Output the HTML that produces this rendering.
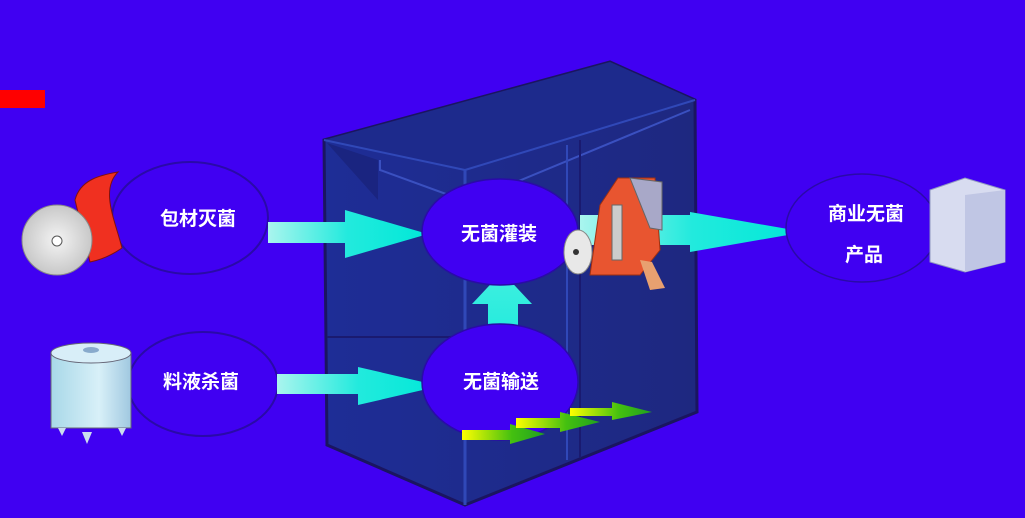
<!DOCTYPE html>
<html><head><meta charset="utf-8"><style>
html,body{margin:0;padding:0;background:#4000f2;}
svg{display:block}
text{font-family:"Liberation Sans","Noto Sans CJK SC",sans-serif;font-weight:bold;fill:#fff;font-size:19px}
</style></head><body>
<svg width="1025" height="518" viewBox="0 0 1025 518">
<defs>
<linearGradient id="cy" x1="0" x2="1"><stop offset="0" stop-color="#aaf5ee"/><stop offset="0.5" stop-color="#22eadd"/><stop offset="1" stop-color="#00e8d8"/></linearGradient>
<linearGradient id="cyv" x1="0" y1="1" x2="0" y2="0"><stop offset="0" stop-color="#22eadd"/><stop offset="1" stop-color="#40f0e0"/></linearGradient>
<linearGradient id="yg" x1="0" x2="1"><stop offset="0" stop-color="#ffff00"/><stop offset="0.6" stop-color="#44c010"/><stop offset="1" stop-color="#20a020"/></linearGradient>
<linearGradient id="box" x1="0" x2="1"><stop offset="0" stop-color="#1e2d96"/><stop offset="1" stop-color="#1e2880"/></linearGradient>
<radialGradient id="roll"><stop offset="0" stop-color="#f4f4f4"/><stop offset="1" stop-color="#c8c8c8"/></radialGradient>
<linearGradient id="tank" x1="0" x2="1"><stop offset="0" stop-color="#a8d8e8"/><stop offset="0.6" stop-color="#d8f0f8"/><stop offset="1" stop-color="#a0c8e0"/></linearGradient>
</defs>
<rect x="0" y="0" width="1025" height="518" fill="#4000f2"/>
<rect x="0" y="90" width="45" height="18" fill="#ff0000"/>
<!-- machine box -->
<polygon points="324,140 610,62 695,100 697,412 465,505 327,445" fill="url(#box)" stroke="#1a1560" stroke-width="3"/>
<polygon points="324,140 610,62 695,100 465,170" fill="#1d2a8c"/>
<polyline points="380,160 380,170 468,202 690,110" fill="none" stroke="#3a50c0" stroke-width="2"/>
<line x1="324" y1="140" x2="465" y2="170" stroke="#3048b8" stroke-width="2"/>
<line x1="465" y1="170" x2="695" y2="100" stroke="#3048b8" stroke-width="2"/>
<line x1="465" y1="170" x2="465" y2="505" stroke="#3048b8" stroke-width="3"/>
<line x1="567" y1="145" x2="567" y2="460" stroke="#3048b8" stroke-width="2"/>
<line x1="580" y1="140" x2="580" y2="458" stroke="#1a1a70" stroke-width="2"/>
<line x1="327" y1="337" x2="465" y2="337" stroke="#1a1a70" stroke-width="2"/>
<polygon points="327,143 378,160 378,200" fill="#1a2480"/>
<!-- left ellipses -->
<ellipse cx="190" cy="218" rx="78" ry="56" fill="#4000f2" stroke="#2a0aa8" stroke-width="2"/>
<ellipse cx="203" cy="384" rx="75" ry="52" fill="#4000f2" stroke="#2a0aa8" stroke-width="2"/>
<text x="160" y="225">包材灭菌</text>
<text x="163" y="388">料液杀菌</text>
<!-- arrows -->
<polygon points="268,222 345,222 345,210 428,234 345,258 345,243 268,243" fill="url(#cy)"/>
<polygon points="277,374 358,374 358,367 440,386 358,405 358,394 277,394" fill="url(#cy)"/>
<polygon points="488,338 488,304 472,304 502,272 532,304 518,304 518,338" fill="url(#cyv)"/>
<polygon points="580,215 690,215 690,212 805,232 690,252 690,245 580,245" fill="url(#cy)"/>
<!-- center ellipses -->
<ellipse cx="500" cy="232" rx="78" ry="53" fill="#4000f2" stroke="#2a0aa8" stroke-width="1.5"/>
<ellipse cx="500" cy="382" rx="78" ry="58" fill="#4000f2" stroke="#2a0aa8" stroke-width="1.5"/>
<text x="461" y="240">无菌灌装</text>
<text x="463" y="388">无菌输送</text>
<!-- green arrows -->
<polygon points="462,430 510,430 510,424 545,434 510,444 510,440 462,440" fill="url(#yg)"/>
<polygon points="516,418 560,418 560,412 600,422 560,432 560,428 516,428" fill="url(#yg)"/>
<polygon points="570,408 612,408 612,402 652,412 612,420 612,416 570,416" fill="url(#yg)"/>
<!-- right ellipse -->
<ellipse cx="862" cy="228" rx="76" ry="54" fill="#4000f2" stroke="#2a0aa8" stroke-width="1.5"/>
<text x="828" y="220">商业无菌</text>
<text x="845" y="261">产品</text>
<!-- filler machine -->
<polygon points="618,178 655,178 660,250 640,275 590,275 600,205" fill="#e85530" stroke="#a03010"/>
<polygon points="630,178 662,182 662,230 650,228" fill="#a8a8c8" stroke="#666"/>
<rect x="612" y="205" width="10" height="55" fill="#ccc" stroke="#666"/>
<polygon points="640,260 652,262 665,288 650,290" fill="#e8a070"/>
<ellipse cx="578" cy="252" rx="14" ry="22" fill="#e8e8e8" stroke="#888"/>
<circle cx="576" cy="252" r="3" fill="#333"/>
<!-- product box -->
<polygon points="930,190 965,178 1005,190 1005,262 965,272 930,262" fill="#d8dcf0" stroke="#9098c0"/>
<polygon points="965,195 1005,190 1005,262 965,272" fill="#c0c6e4"/>
<!-- roll -->
<path d="M75,200 C80,180 100,175 118,172 C100,190 115,220 122,248 C112,255 100,260 90,262 Z" fill="#f03020" stroke="#801010"/>
<ellipse cx="57" cy="240" rx="35" ry="35" fill="url(#roll)" stroke="#888"/>
<circle cx="57" cy="241" r="5" fill="#fff" stroke="#555"/>
<!-- tank -->
<rect x="51" y="353" width="80" height="75" fill="url(#tank)" stroke="#667"/>
<ellipse cx="91" cy="353" rx="40" ry="10" fill="#d8eef8" stroke="#667"/>
<ellipse cx="91" cy="350" rx="8" ry="3" fill="#8ac" />
<polygon points="58,428 66,428 62,436" fill="#cde"/>
<polygon points="82,432 92,432 87,444" fill="#cde"/>
<polygon points="118,428 126,428 122,436" fill="#cde"/>
</svg>
</body></html>
